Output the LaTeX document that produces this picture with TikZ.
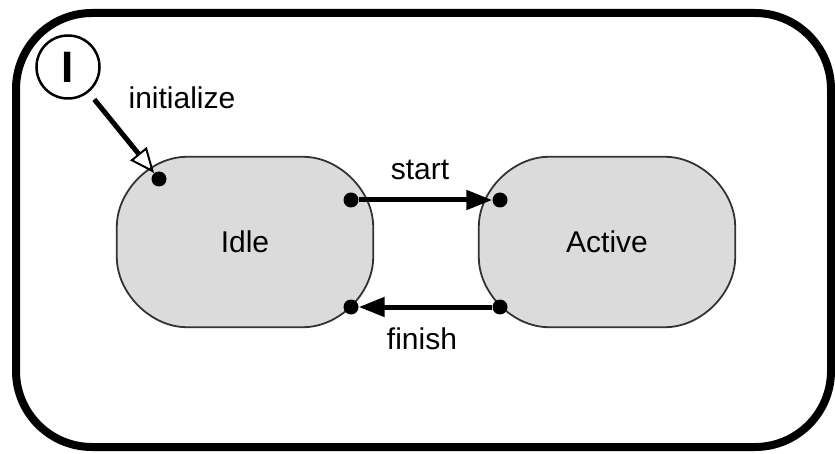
\documentclass[tikz,border=0pt]{standalone}
\usepackage{fontspec}
\setmainfont{Liberation Sans}
\usepackage{tikz}
\usetikzlibrary{shapes.geometric, arrows.meta, positioning}

\tikzset{
  state/.style={rectangle, minimum width=256pt, minimum height=170pt, inner sep=0pt},
  stateline/.style={fill=black!14, draw=black!80, line width=1.8pt},
  port/.style={circle, fill=black, inner sep=0pt, minimum size=15pt},
  lbl/.style={font=\fontsize{30}{36}\selectfont, inner sep=0pt},
  trans/.style={line width=5pt, -{Triangle[length=26pt,width=19pt]}},
  initarrow/.style={line width=5pt, shorten <=9pt,
    -{Triangle[open,length=25pt,width=21pt,line width=2pt]}}
}

\begin{document}
\begin{tikzpicture}[x=1pt,y=-1pt]
\useasboundingbox (0,0) rectangle (835,454);
% Frame
\draw[line width=8pt, rounded corners=76pt] (16,13) rectangle (831,447);

% States
\node[state] (idle) at (245,242) {};
\node[state] (active) at (607,242) {};
\foreach \st/\txt in {idle/Idle,active/Active} {
    \filldraw[stateline] ([xshift=70pt]\st.north west) -- ([xshift=-70pt]\st.north east)
        .. controls ([xshift=-34pt]\st.north east) and ([yshift=-34pt]\st.north east)
        .. ([yshift=-70pt]\st.north east) -- ([yshift=70pt]\st.south east)
        .. controls ([yshift=34pt]\st.south east) and ([xshift=-34pt]\st.south east)
        .. ([xshift=-70pt]\st.south east) -- ([xshift=70pt]\st.south west)
        .. controls ([xshift=34pt]\st.south west) and ([yshift=34pt]\st.south west)
        .. ([yshift=70pt]\st.south west) -- ([yshift=-70pt]\st.north west)
        .. controls ([yshift=-34pt]\st.north west) and ([xshift=34pt]\st.north west)
        .. cycle;
    \node[lbl] (\st text) at (\st) {\txt};
}

% Initial pseudostate
\node[circle, draw, line width=2.5pt, minimum size=63pt, inner sep=0pt,
      font=\fontsize{44}{48}\selectfont\bfseries] (init) at (68,67) {I};
\node[lbl] (initlbl) at (182,98) {initialize};

% Ports
\node[port] (idlein) at (159,179) {};
\node[port] (idleout) at (351,200) {};
\node[port] (idleback) at (351,307) {};
\node[port] (activein) at (500,200) {};
\node[port] (activeout) at (500,307) {};

% Transitions
\draw[initarrow] (init) -- (idlein);
\draw[trans] (idleout) -- (activein);
\draw[trans] (activeout) -- (idleback);
\node[lbl] (startlbl) at (420,170) {start};
\node[lbl] (finishlbl) at (422,339) {finish};
\end{tikzpicture}
\end{document}
